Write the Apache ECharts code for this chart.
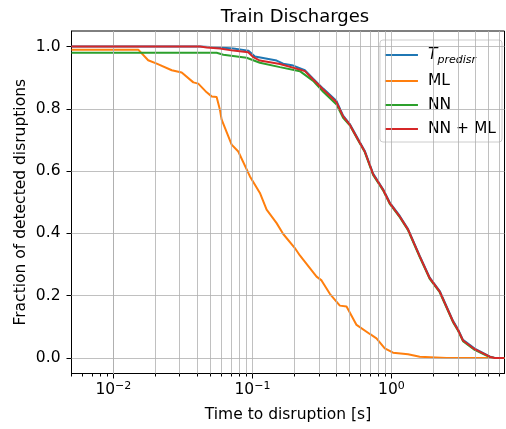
<!DOCTYPE html>
<html>
<head>
<meta charset="utf-8">
<script src="https://cdn.jsdelivr.net/npm/echarts@6/dist/echarts.min.js"></script>
<style>html,body{margin:0;padding:0;background:#fff}#c{width:506px;height:429px}</style>
</head>
<body>
<div id="c"></div>
<script>
// ---- data ----
const seriesNames = ['Tpredisr', 'ML', 'NN', 'NN + ML'];
const seriesColors = ['#1f77b4', '#ff7f0e', '#2ca02c', '#d62728'];

const tpredT = [0.005,0.042,0.0584,0.0728,0.0933,0.1042,0.1493,0.1665,0.1965,0.2383,0.2734,0.3227,0.4027,0.449,0.5015,0.5754,0.6427,0.7379,0.8706,0.9722,1.147,1.316,1.597,1.884,2.223,2.771,3.008,3.268,3.966,5.08,5.52,6.5];
const tpredV = [1.0,1.0,0.997,0.994,0.987,0.968,0.955,0.945,0.939,0.924,0.897,0.865,0.825,0.778,0.751,0.703,0.665,0.592,0.542,0.499,0.456,0.414,0.328,0.258,0.215,0.119,0.092,0.058,0.030,0.005,0.0,0.0];

const mlT = [0.005,0.0151,0.0178,0.0205,0.0263,0.031,0.0376,0.0408,0.0469,0.0509,0.0553,0.0584,0.0601,0.0709,0.0791,0.096,0.1132,0.1265,0.1493,0.1665,0.2019,0.2194,0.2893,0.3141,0.3604,0.4254,0.4752,0.5609,0.6985,0.7802,0.895,1.027,1.316,1.597,2.484,6.5];
const mlV = [0.99,0.99,0.956,0.945,0.924,0.917,0.885,0.881,0.853,0.840,0.838,0.797,0.765,0.685,0.663,0.583,0.530,0.476,0.433,0.398,0.353,0.329,0.261,0.249,0.206,0.168,0.165,0.106,0.077,0.063,0.031,0.017,0.012,0.004,0.0,0.0];

const nnT = [0.005,0.0553,0.0618,0.0908,0.1132,0.1577,0.2194,0.2734,0.3227,0.4027,0.449,0.5015,0.5754,0.6427,0.7379,0.8706,0.9722,1.147,1.316,1.597,1.884,2.223,2.771,3.008,3.268,3.966,5.08,5.52,6.5];
const nnV = [0.98,0.98,0.974,0.964,0.948,0.934,0.921,0.890,0.855,0.814,0.771,0.747,0.699,0.661,0.588,0.538,0.495,0.452,0.410,0.324,0.254,0.211,0.115,0.088,0.054,0.026,0.003,0.0,0.0];

const nnmlT = [0.005,0.042,0.0469,0.0584,0.0728,0.0933,0.1014,0.1132,0.1577,0.2194,0.2383,0.2734,0.3227,0.4027,0.449,0.5015,0.5754,0.6427,0.7379,0.8706,0.9722,1.147,1.316,1.597,1.884,2.223,2.771,3.008,3.268,3.966,5.08,5.52,6.5];
const nnmlV = [1.0,1.0,0.997,0.994,0.987,0.982,0.966,0.955,0.944,0.926,0.921,0.894,0.862,0.821,0.776,0.749,0.701,0.663,0.590,0.540,0.497,0.454,0.412,0.326,0.256,0.213,0.117,0.090,0.056,0.028,0.004,0.0,0.0];

// ---- axis ticks / grid ----
const xMajorTicks = [0.01, 0.1, 1];
const xGridValues = [0.005,0.006,0.007,0.008,0.009,0.01,0.02,0.03,0.04,0.05,0.06,0.07,0.08,0.09,0.1,0.2,0.3,0.4,0.5,0.6,0.7,0.8,0.9,1,2,3,4,5,6];
const xMinorTicks = [0.005,0.006,0.007,0.008,0.009,0.02,0.03,0.04,0.05,0.06,0.07,0.08,0.09,0.2,0.3,0.4,0.5,0.6,0.7,0.8,0.9,2,3,4,5,6];
const yTicks = [0, 0.2, 0.4, 0.6, 0.8, 1.0];

const pair = (t, v) => t.map((x, i) => [x, v[i]]);
const allData = [pair(tpredT, tpredV), pair(mlT, mlV), pair(nnT, nnV), pair(nnmlT, nnmlV)];

const FONT = 'DejaVu Sans';
const chart = echarts.init(document.getElementById('c'), null, {renderer: 'canvas'});

const gridLines = xGridValues.map(v => ({xAxis: v})).concat(yTicks.map(v => ({yAxis: v})));

const series = [{
  type: 'line', name: '__grid', data: [], z: 0, silent: true,
  xAxisIndex: 0, yAxisIndex: 0,
  markLine: {
    silent: true, symbol: ['none', 'none'], animation: false,
    label: {show: false},
    lineStyle: {color: '#b0b0b0', width: 1, type: 'solid', opacity: 0.8},
    emphasis: {disabled: true},
    data: gridLines
  }
}].concat(allData.map((d, i) => ({
  type: 'line', name: seriesNames[i], data: d,
  showSymbol: false, symbol: 'none',
  lineStyle: {color: seriesColors[i], width: 2},
  itemStyle: {color: seriesColors[i]},
  z: 2 + i, animation: false
})));

chart.setOption({
  animation: false,
  title: {
    text: 'Train Discharges', left: 290, top: 3, textAlign: 'center',
    textStyle: {fontFamily: FONT, fontSize: 18, fontWeight: 'normal', color: '#000'}
  },
  grid: {left: 71.5, right: 1.5, top: 31, bottom: 55.5, show: true, borderColor: '#000', borderWidth: 1, backgroundColor: 'transparent'},
  legend: {
    data: seriesNames, orient: 'vertical', right: 4, top: 40,
    padding: [4, 6, 4, 5], itemGap: 6, itemWidth: 33, itemHeight: 2, icon: 'rect',
    backgroundColor: 'rgba(255,255,255,0.8)', borderColor: '#cccccc', borderWidth: 1, borderRadius: 3,
    formatter: function (name) { return name === 'Tpredisr' ? '{t|T}{s|predisr}' : name; },
    textStyle: {
      fontFamily: FONT, fontSize: 15.5, color: '#000', lineHeight: 18, padding: [0, 0, 0, 5],
      rich: {
        t: {fontFamily: FONT, fontSize: 15.5, fontStyle: 'italic', lineHeight: 22, verticalAlign: 'middle'},
        s: {fontFamily: FONT, fontSize: 11, fontStyle: 'italic', lineHeight: 22, verticalAlign: 'bottom', padding: [8, 0, 0, 0]}
      }
    }
  },
  xAxis: [{
    type: 'log', logBase: 10, min: 0.005, max: 6.5,
    name: 'Time to disruption [s]', nameLocation: 'middle', nameGap: 33, nameMoveOverlap: false,
    nameTextStyle: {fontFamily: FONT, fontSize: 15.5, color: '#000'},
    axisLine: {show: true, onZero: false, lineStyle: {color: '#000', width: 1}},
    axisTick: {show: true, length: 5, lineStyle: {color: '#000', width: 1}, customValues: xMajorTicks},
    splitLine: {show: false},
    axisLabel: {
      customValues: xMajorTicks, margin: 7, color: '#000', fontFamily: FONT, fontSize: 15.5,
      formatter: function (v) {
        const e = Math.round(Math.log10(v));
        const s = e < 0 ? '\u2212' + Math.abs(e) : String(e);
        return '10{sup|' + s + '}';
      },
      rich: {sup: {fontFamily: FONT, fontSize: 11, verticalAlign: 'top', padding: [0, 0, 8, 0], color: '#000'}}
    }
  }, {
    type: 'log', logBase: 10, min: 0.005, max: 6.5, position: 'bottom', offset: 0,
    axisLine: {show: false, onZero: false},
    axisTick: {show: true, length: 3, lineStyle: {color: '#000', width: 1}, customValues: xMinorTicks},
    axisLabel: {show: false},
    splitLine: {show: false}
  }],
  yAxis: {
    type: 'value', min: -0.05, max: 1.05,
    name: 'Fraction of detected disruptions', nameLocation: 'middle', nameGap: 43, nameMoveOverlap: false,
    nameTextStyle: {fontFamily: FONT, fontSize: 15.5, color: '#000'},
    axisLine: {show: true, onZero: false, lineStyle: {color: '#000', width: 1}},
    axisTick: {show: true, length: 5, lineStyle: {color: '#000'}, customValues: yTicks},
    splitLine: {show: false},
    axisLabel: {
      customValues: yTicks, margin: 11, color: '#000', fontFamily: FONT, fontSize: 15.5,
      formatter: function (v) { return v.toFixed(1); }
    }
  },
  series: series
});
</script>
</body>
</html>
